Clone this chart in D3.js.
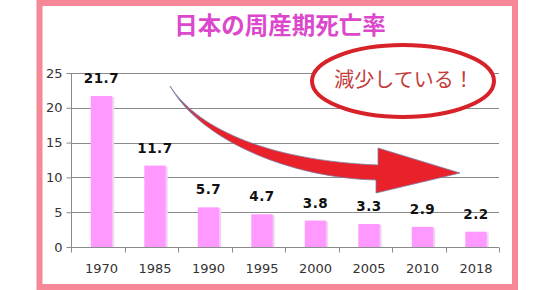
<!DOCTYPE html>
<html><head><meta charset="utf-8">
<script src="https://cdn.jsdelivr.net/npm/d3@7"></script>
<style>html,body{margin:0;padding:0;background:#fff;}svg{display:block;}</style>
</head><body>
<script>
const title = "日本の周産期死亡率";
const categories = ["1970","1985","1990","1995","2000","2005","2010","2018"];
const values = [21.7, 11.7, 5.7, 4.7, 3.8, 3.3, 2.9, 2.2];
const yTicks = [0, 5, 10, 15, 20, 25];
const note = "減少している！";

const W = 557, H = 290;
const svg = d3.select("body").append("svg").attr("width", W).attr("height", H);

// frame
svg.append("rect").attr("x", 39.5).attr("y", 3).attr("width", 475.5).attr("height", 284)
  .attr("fill", "#fff").attr("stroke", "#f58796").attr("stroke-width", 6);

// title
svg.append("text").attr("x", 280).attr("y", 33.5).attr("text-anchor", "middle")
  .attr("font-family", "'Noto Sans CJK JP', sans-serif").attr("font-weight", "bold")
  .attr("font-size", 23.5).attr("fill", "#dc48cc").text(title);

const x = d3.scaleBand().domain(categories).range([71, 499]).padding(0);
const y = d3.scaleLinear().domain([0, 25]).range([247, 73]);

// gridlines
svg.append("g").selectAll("line").data(yTicks.filter(t => t > 0)).join("line")
  .attr("x1", 71).attr("x2", 499)
  .attr("y1", d => Math.round(y(d)) + 0.5).attr("y2", d => Math.round(y(d)) + 0.5)
  .attr("stroke", "#8a8a8a").attr("stroke-width", 1);

// y axis
const yAxis = svg.append("g").attr("transform", "translate(71.5,0)")
  .call(d3.axisLeft(y).tickValues(yTicks).tickSize(5).tickPadding(4).tickFormat(d3.format("d")));
yAxis.select(".domain").attr("stroke", "#8a8a8a").attr("d", `M0,${y(25)}V${y(0)}`);
yAxis.selectAll(".tick line").attr("stroke", "#8a8a8a");
yAxis.selectAll(".tick text").attr("font-family", "'DejaVu Sans', sans-serif")
  .attr("font-size", 13).attr("fill", "#333");

// x axis (ticks between categories)
const xg = svg.append("g").attr("transform", `translate(0,${Math.round(y(0)) + 0.5})`);
xg.append("line").attr("x1", 71).attr("x2", 499).attr("stroke", "#8a8a8a");
const bounds = categories.map(c => x(c)).concat([x.range()[1]]);
xg.selectAll("line.tk").data(bounds).join("line").attr("class", "tk")
  .attr("x1", d => Math.round(d) + 0.5).attr("x2", d => Math.round(d) + 0.5)
  .attr("y1", 0).attr("y2", 5).attr("stroke", "#8a8a8a");

const bw = x.bandwidth();
const barX = c => x(c) + bw * 0.37;
const barW = bw * 0.4;
const cx = c => barX(c) + barW / 2;

xg.selectAll("text").data(categories).join("text")
  .attr("x", d => cx(d)).attr("y", 25).attr("text-anchor", "middle")
  .attr("font-family", "'DejaVu Sans', sans-serif").attr("font-size", 13)
  .attr("fill", "#333").text(d => d);

// bars with slight shadow
const data = categories.map((c, i) => ({c, v: values[i]}));
svg.append("g").selectAll("rect").data(data).join("rect")
  .attr("x", d => barX(d.c) + 2).attr("y", d => y(d.v) + 1)
  .attr("width", barW).attr("height", d => y(0) - y(d.v) - 1)
  .attr("fill", "#f1d6f1");
svg.append("g").selectAll("rect").data(data).join("rect")
  .attr("x", d => barX(d.c)).attr("y", d => y(d.v))
  .attr("width", barW).attr("height", d => y(0) - y(d.v))
  .attr("fill", "#ff99ff");

// value labels
svg.append("g").selectAll("text").data(data).join("text")
  .attr("x", d => cx(d.c)).attr("y", d => y(d.v) - 13).attr("text-anchor", "middle")
  .attr("font-family", "'DejaVu Sans', sans-serif").attr("font-weight", "bold")
  .attr("font-size", 13.5).attr("letter-spacing", 0.5).attr("fill", "#111")
  .text(d => d.v.toFixed(1));

// arrow annotation
const defs = svg.append("defs");
const grad = defs.append("linearGradient").attr("id", "tailg")
  .attr("gradientUnits", "userSpaceOnUse").attr("x1", 170).attr("y1", 86).attr("x2", 205).attr("y2", 125);
grad.append("stop").attr("offset", 0).attr("stop-color", "#6f86b0");
grad.append("stop").attr("offset", 1).attr("stop-color", "#e8212b");
svg.append("path")
  .attr("d", "M170,86 C195,125 260,160 378,165 L378,148 L460,173 L376,193 L376,180 C290,178 200,140 170,86 Z")
  .attr("fill", "url(#tailg)").attr("stroke", "#7a7fa6").attr("stroke-width", 0.8);

// ellipse note
svg.append("ellipse").attr("cx", 403).attr("cy", 81).attr("rx", 91).attr("ry", 36)
  .attr("fill", "#fff").attr("stroke", "#d8222a").attr("stroke-width", 4);
svg.append("text").attr("x", 404).attr("y", 87).attr("text-anchor", "middle")
  .attr("font-family", "'Noto Sans CJK JP', sans-serif").attr("font-size", 20)
  .attr("fill", "#c23b3b").text(note);
</script>
</body></html>
